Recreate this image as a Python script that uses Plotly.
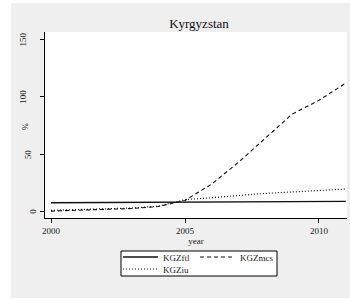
import plotly.graph_objects as go

years = [2000, 2001, 2002, 2003, 2004, 2005, 2006, 2007, 2008, 2009, 2010, 2011]
kgz_ftl = [7.6, 7.7, 7.8, 7.9, 8.1, 8.4, 8.6, 8.7, 8.8, 8.8, 8.8, 8.8]
kgz_mcs = [0.3, 0.9, 1.6, 2.6, 4.3, 9.6, 24.0, 43.0, 64.0, 85.0, 97.0, 112.0]
kgz_iu = [1.0, 1.5, 2.0, 3.0, 4.6, 10.3, 12.0, 14.0, 15.8, 17.0, 18.3, 19.6]

y_ticks = [0, 50, 100, 150]
y_grid = [0, 50, 100]
x_ticks = [2000, 2005, 2010]

FONT = "Liberation Serif"
W, H = 350, 301
ML, MR, MT, MB = 45, 3, 32, 83
PW, PH = W - ML - MR, H - MT - MB


def px(x):
    return (x - ML) / PW


def py(y):
    return (MT + PH - y) / PH


fig = go.Figure()
fig.add_trace(go.Scatter(x=years, y=kgz_ftl, name="KGZftl", mode="lines",
                         line=dict(color="#111111", width=1.4), legend="legend"))
fig.add_trace(go.Scatter(x=years, y=kgz_mcs, name="KGZmcs", mode="lines",
                         line=dict(color="#111111", width=1.1, dash="4px,3px"), legend="legend2"))
fig.add_trace(go.Scatter(x=years, y=kgz_iu, name="KGZiu", mode="lines",
                         line=dict(color="#111111", width=1.2, dash="1px,2px"), legend="legend3"))

shapes = [
    # white outer margin strips
    dict(type="rect", xref="paper", yref="paper", x0=px(0), x1=px(11), y0=py(H), y1=py(0),
         fillcolor="white", line=dict(width=0), layer="below"),
    dict(type="rect", xref="paper", yref="paper", x0=px(0), x1=px(W), y0=py(3), y1=py(0),
         fillcolor="white", line=dict(width=0), layer="below"),
    dict(type="rect", xref="paper", yref="paper", x0=px(0), x1=px(W), y0=py(H), y1=py(298),
         fillcolor="white", line=dict(width=0), layer="below"),
    # legend box
    dict(type="rect", xref="paper", yref="paper", x0=px(121), x1=px(277), y0=py(276), y1=py(251),
         fillcolor="white", line=dict(color="black", width=1), layer="below"),
]

annotations = []
for v in y_ticks:
    s = str(v)
    cx = 38.5 - 5.2 * len(s)
    annotations.append(dict(text=s, x=px(cx), xref="paper", y=v, yref="y",
                            showarrow=False, textangle=-90, xanchor="center", yanchor="middle",
                            font=dict(family=FONT, size=9, color="#222222")))
annotations.append(dict(text="%", x=px(25), xref="paper", y=py(127), yref="paper",
                        showarrow=False, textangle=-90, xanchor="center", yanchor="middle",
                        font=dict(family=FONT, size=8, color="#222222")))

legend_style = dict(orientation="h", xanchor="left", yanchor="middle",
                    bgcolor="rgba(0,0,0,0)", borderwidth=0, itemwidth=35,
                    font=dict(family=FONT, size=9))

fig.update_layout(
    width=W, height=H,
    margin=dict(l=ML, r=MR, t=MT, b=MB),
    showlegend=True,
    paper_bgcolor="#efefef",
    plot_bgcolor="white",
    font=dict(family=FONT, size=9, color="#222222"),
    title=dict(text="Kyrgyzstan", x=px(199), xanchor="center", xref="paper",
               y=1 - 23 / H, yref="container", yanchor="middle",
               font=dict(family=FONT, size=13, color="#111111")),
    xaxis=dict(range=[1999.776, 2011.045], tickvals=x_ticks, ticks="outside", ticklen=4,
               tickcolor="black", showline=True, linecolor="black", linewidth=1,
               showgrid=False, zeroline=False, tickfont=dict(family=FONT, size=9),
               title=dict(text="year", font=dict(family=FONT, size=9), standoff=2)),
    yaxis=dict(range=[-5.7, 156.6], tickvals=y_ticks, ticks="outside", ticklen=4,
               tickcolor="black", showline=True, linecolor="black", linewidth=1,
               showgrid=False, zeroline=False, showticklabels=False),
    yaxis2=dict(range=[-5.7, 156.6], overlaying="y", tickvals=y_grid, showgrid=True,
                gridcolor="#e3e3e3", gridwidth=1, showticklabels=False, ticks="",
                zeroline=False, showline=False),
    legend=dict(x=px(118), y=py(257), **legend_style),
    legend2=dict(x=px(195), y=py(257), **legend_style),
    legend3=dict(x=px(118), y=py(269), **legend_style),
    shapes=shapes,
    annotations=annotations,
)

fig.write_html("out.html", config={"displayModeBar": False},
               post_script="document.body.style.margin='0';")
